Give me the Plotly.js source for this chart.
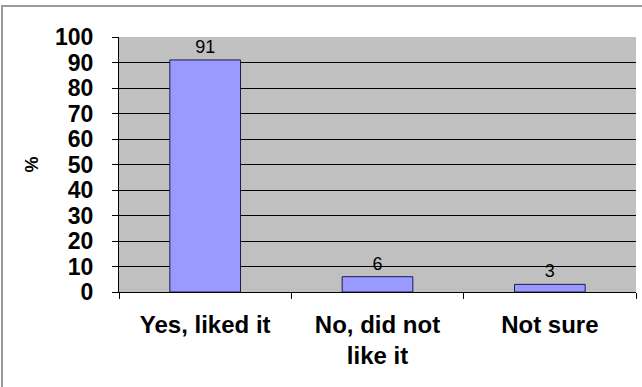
<!DOCTYPE html>
<html>
<head>
<meta charset="utf-8">
<script src="https://cdn.plot.ly/plotly-3.0.1.min.js"></script>
<style>
  html, body { margin: 0; padding: 0; background: #fff; }
  #wrap { position: relative; width: 642px; height: 387px; overflow: hidden; }
  #frame { position: absolute; left: 1px; top: 5px; width: 700px; height: 500px;
           border-left: 2px solid #9a9a9a; border-top: 2px solid #9a9a9a; }
  #chart { position: absolute; left: 0; top: 0; width: 642px; height: 387px; }
</style>
</head>
<body>
<div id="wrap">
  <div id="frame"></div>
  <div id="chart"></div>
</div>
<script>
// Survey answers, in percent
const categories = ['Yes, liked it', 'No, did not<br>like it', 'Not sure'];
const percents = [91, 6, 3];
const yTicks = [0, 10, 20, 30, 40, 50, 60, 70, 80, 90, 100];
const gridTicks = [10, 20, 30, 40, 50, 60, 70, 80, 90];

const font = 'Arial, "Liberation Sans", sans-serif';

const bars = {
  type: 'bar',
  x: categories,
  y: percents,
  width: 0.41,
  marker: { color: '#9999ff', line: { color: '#1c1c50', width: 1 } },
  text: percents.map(String),
  textposition: 'outside',
  cliponaxis: false,
  textfont: { family: font, size: 18, color: '#000' },
  hoverinfo: 'skip'
};

// invisible trace on the overlay axis so its gridlines get drawn
const gridCarrier = {
  type: 'scatter', mode: 'markers',
  x: [categories[0]], y: [0], yaxis: 'y2',
  marker: { opacity: 0 }, hoverinfo: 'skip', showlegend: false
};

const layout = {
  width: 642, height: 387,
  margin: { l: 119, r: 6, t: 37, b: 95, pad: 0 },
  paper_bgcolor: 'rgba(0,0,0,0)',
  plot_bgcolor: '#c0c0c0',
  showlegend: false,
  bargap: 0.59,
  xaxis: {
    type: 'category',
    showline: true, linecolor: '#000', linewidth: 1,
    ticks: 'outside', tickson: 'boundaries', ticklen: 6, tickcolor: '#000', tickwidth: 1,
    tickfont: { family: font, size: 24, color: '#000', weight: 'bold' },
    ticklabelstandoff: 11,
    showgrid: false, zeroline: false, fixedrange: true
  },
  yaxis: {
    range: [0, 100],
    tickvals: yTicks,
    ticktext: yTicks.map(String),
    showline: true, linecolor: '#000', linewidth: 1,
    ticks: 'outside', ticklen: 6, tickcolor: '#000', tickwidth: 1,
    tickfont: { family: font, size: 23, color: '#000', weight: 'bold' },
    ticklabelstandoff: 14,
    showgrid: false, zeroline: false, fixedrange: true,
    title: { text: '%', font: { family: font, size: 18, color: '#000', weight: 'bold' }, standoff: 11 }
  },
  yaxis2: {
    overlaying: 'y', range: [0, 100],
    tickvals: gridTicks,
    showticklabels: false, ticks: '',
    showgrid: true, gridcolor: '#000', gridwidth: 1,
    zeroline: false, showline: false, fixedrange: true
  }
};

Plotly.newPlot('chart', [gridCarrier, bars], layout, { displayModeBar: false, staticPlot: true });
</script>
</body>
</html>
